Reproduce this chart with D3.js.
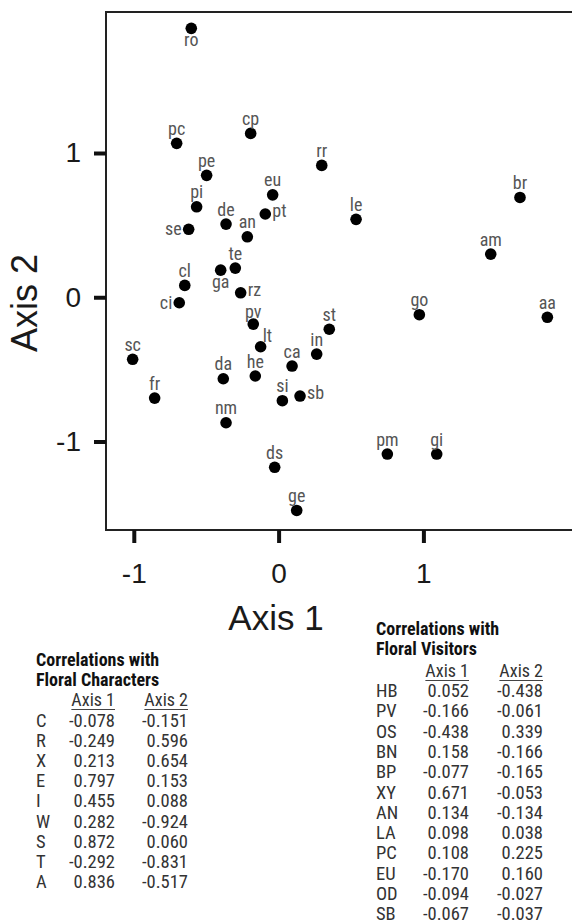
<!DOCTYPE html>
<html>
<head>
<meta charset="utf-8">
<script src="https://cdn.jsdelivr.net/npm/d3@7"></script>
<style>
  body { margin: 0; background: #fff; }
  svg { display: block; }
</style>
</head>
<body>
<div id="chart"></div>
<script>
// site ordination scores
const sites = ['ro','pc','cp','pe','eu','pi','pt','de','se','an','te','ga','cl','rz','rr','le','br','am',
  'ci','pv','lt','sc','ca','da','he','fr','si','nm','ds','ge','go','aa','st','in','sb','pm','gi'];
const axis1Scores = [-0.603,-0.704,-0.193,-0.497,-0.041,-0.566,-0.092,-0.363,-0.621,-0.216,-0.299,-0.400,-0.648,-0.262,0.298,0.535,1.667,1.465,
  -0.686,-0.175,-0.124,-1.008,0.093,-0.382,-0.161,-0.856,0.026,-0.363,-0.027,0.125,0.972,1.856,0.350,0.263,0.148,0.751,1.092];
const axis2Scores = [1.864,1.067,1.136,0.845,0.710,0.627,0.577,0.507,0.471,0.419,0.202,0.188,0.082,0.031,0.914,0.540,0.692,0.299,
  -0.038,-0.186,-0.343,-0.430,-0.477,-0.565,-0.546,-0.699,-0.717,-0.870,-1.179,-1.478,-0.121,-0.139,-0.222,-0.394,-0.685,-1.087,-1.087];

const tickValues = [-1, 0, 1];

// correlation tables
const charVars = ['C','R','X','E','I','W','S','T','A'];
const charAxis1 = [-0.078,-0.249,0.213,0.797,0.455,0.282,0.872,-0.292,0.836];
const charAxis2 = [-0.151,0.596,0.654,0.153,0.088,-0.924,0.060,-0.831,-0.517];

const visitorVars = ['HB','PV','OS','BN','BP','XY','AN','LA','PC','EU','OD','SB'];
const visitorAxis1 = [0.052,-0.166,-0.438,0.158,-0.077,0.671,0.134,0.098,0.108,-0.170,-0.094,-0.067];
const visitorAxis2 = [-0.438,-0.061,0.339,-0.166,-0.165,-0.053,-0.134,0.038,0.225,0.160,-0.027,-0.037];

// where a label sits relative to its dot (default is above)
const labelSide = { ro: 'below', ga: 'below', se: 'left', ci: 'left', pt: 'right', rz: 'right', sb: 'right', lt: 'upright', pv: 'near' };

const W = 572, H = 924;
const sansFont = '"Liberation Sans", Arial, sans-serif';
const narrowFont = '"Liberation Sans Narrow", "Arial Narrow", "Roboto Condensed", sans-serif';

const svg = d3.select('#chart').append('svg')
  .attr('width', W)
  .attr('height', H);

const x = d3.scaleLinear().domain([-1, 1]).range([133.8, 423.4]);
const y = d3.scaleLinear().domain([-1, 1]).range([441.5, 153]);

const frameLeft = 106, frameTop = 12, frameBottom = 530;

// frame (right side runs off the page)
svg.append('path')
  .attr('d', `M${W + 10},${frameTop}H${frameLeft}V${frameBottom}H${W + 10}`)
  .attr('fill', 'none')
  .attr('stroke', '#222')
  .attr('stroke-width', 2);

const xAxis = svg.append('g')
  .attr('transform', `translate(0,${frameBottom})`)
  .call(d3.axisBottom(x).tickValues(tickValues).tickSize(13).tickPadding(20).tickFormat(d3.format('d')));

const yAxis = svg.append('g')
  .attr('transform', `translate(${frameLeft},0)`)
  .call(d3.axisLeft(y).tickValues(tickValues).tickSize(12).tickPadding(13).tickFormat(d3.format('d')));

[xAxis, yAxis].forEach(g => {
  g.select('.domain').remove();
  g.selectAll('.tick line').attr('stroke', '#111').attr('stroke-width', 4);
  g.selectAll('.tick text')
    .attr('font-family', sansFont)
    .attr('font-size', 28)
    .attr('fill', '#1a1a1a')
    .text(d => d < 0 ? '-' + Math.abs(d) : d);
});

svg.append('text')
  .attr('x', 276)
  .attr('y', 630)
  .attr('text-anchor', 'middle')
  .attr('font-family', sansFont)
  .attr('font-size', 35)
  .attr('fill', '#1a1a1a')
  .text('Axis 1');

svg.append('text')
  .attr('transform', 'translate(37,303) rotate(-90)')
  .attr('text-anchor', 'middle')
  .attr('font-family', sansFont)
  .attr('font-size', 36)
  .attr('fill', '#1a1a1a')
  .text('Axis 2');

// points
const points = sites.map((id, i) => ({ id, a1: axis1Scores[i], a2: axis2Scores[i] }));

svg.append('g').selectAll('circle')
  .data(points)
  .join('circle')
  .attr('cx', d => x(d.a1))
  .attr('cy', d => y(d.a2))
  .attr('r', 5.8)
  .attr('fill', '#000');

const offsets = {
  above: { dx: 0, dy: -8.5, anchor: 'middle' },
  near: { dx: 0, dy: -6.5, anchor: 'middle' },
  below: { dx: 0, dy: 18, anchor: 'middle' },
  left: { dx: -7, dy: 6, anchor: 'end' },
  right: { dx: 7, dy: 3, anchor: 'start' },
  upright: { dx: 2, dy: -5, anchor: 'start' }
};

svg.append('g').selectAll('text')
  .data(points)
  .join('text')
  .each(function(d) {
    const o = offsets[labelSide[d.id] || 'above'];
    d3.select(this)
      .attr('x', x(d.a1) + o.dx)
      .attr('y', y(d.a2) + o.dy)
      .attr('text-anchor', o.anchor);
  })
  .attr('font-family', narrowFont)
  .attr('font-size', 18)
  .attr('fill', '#555')
  .text(d => d.id);

// correlation tables
function drawTable(opts) {
  const g = svg.append('g');
  g.selectAll('text.title')
    .data(opts.title)
    .join('text')
    .attr('class', 'title')
    .attr('x', opts.left)
    .attr('y', (d, i) => opts.titleY + i * 20)
    .attr('font-family', narrowFont)
    .attr('font-weight', 'bold')
    .attr('font-size', 18)
    .attr('fill', '#111')
    .text(d => d);

  const cols = [opts.col1, opts.col2];
  ['Axis 1', 'Axis 2'].forEach((h, i) => {
    const t = g.append('text')
      .attr('x', cols[i])
      .attr('y', opts.headY)
      .attr('text-anchor', 'end')
      .attr('font-family', narrowFont)
      .attr('font-size', 18)
      .attr('fill', '#333')
      .text(h);
    const w = t.node().getComputedTextLength();
    g.append('line')
      .attr('x1', cols[i] - w)
      .attr('x2', cols[i])
      .attr('y1', opts.headY + 3.5)
      .attr('y2', opts.headY + 3.5)
      .attr('stroke', '#444')
      .attr('stroke-width', 1.2);
  });

  const rows = opts.vars.map((v, i) => ({ v, a: opts.a1[i], b: opts.a2[i] }));
  const row = g.selectAll('g.row')
    .data(rows)
    .join('g')
    .attr('class', 'row')
    .attr('transform', (d, i) => `translate(0,${opts.rowY + i * opts.step})`)
    .attr('font-family', narrowFont)
    .attr('font-size', 18.5)
    .attr('fill', '#333');
  row.append('text').attr('x', opts.left).text(d => d.v);
  row.append('text').attr('x', opts.col1).attr('text-anchor', 'end').text(d => d.a.toFixed(3));
  row.append('text').attr('x', opts.col2).attr('text-anchor', 'end').text(d => d.b.toFixed(3));
}

drawTable({
  title: ['Correlations with', 'Floral Characters'],
  vars: charVars, a1: charAxis1, a2: charAxis2,
  left: 36, col1: 115, col2: 188,
  titleY: 666, headY: 706, rowY: 727, step: 20.1
});

drawTable({
  title: ['Correlations with', 'Floral Visitors'],
  vars: visitorVars, a1: visitorAxis1, a2: visitorAxis2,
  left: 376, col1: 469, col2: 543,
  titleY: 635, headY: 677, rowY: 697, step: 20.3
});
</script>
</body>
</html>
